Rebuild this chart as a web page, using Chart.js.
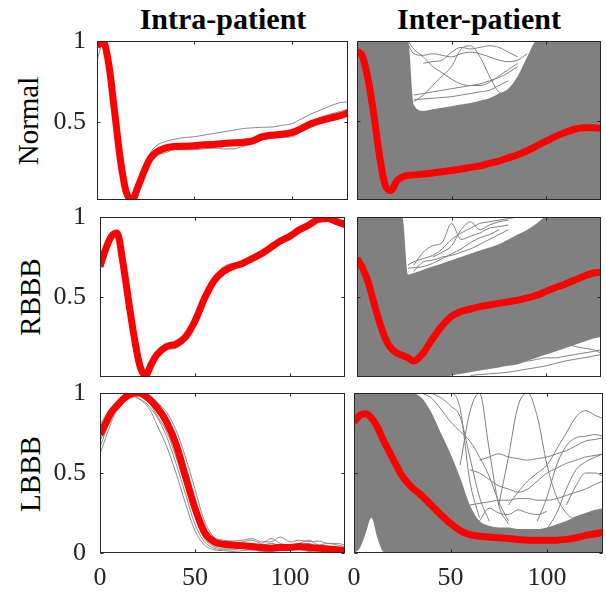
<!DOCTYPE html>
<html lang="en">
<head>
<meta charset="UTF-8">
<title>Intra-patient vs Inter-patient heartbeats</title>
<script src="https://cdn.jsdelivr.net/npm/chart.js"></script>
<style>
  body { margin: 0; background: #fff; }
  #fig { position: relative; width: 606px; height: 596px; overflow: hidden; font-family: "Liberation Serif", "Times New Roman", serif; color: #000; }
  #fig canvas { position: absolute; }
  .colTitle { position: absolute; top: 4px; font-weight: bold; font-size: 30px; line-height: 30px; transform: translateX(-50%); white-space: nowrap; }
  .rowLabel { position: absolute; font-size: 29px; line-height: 29px; transform: translate(-50%, -50%) rotate(-90deg); white-space: nowrap; }
</style>
</head>
<body>
<div id="fig">
  <div class="colTitle" style="left:223px">Intra-patient</div>
  <div class="colTitle" style="left:479px">Inter-patient</div>
  <div class="rowLabel" style="left:28px;top:121px">Normal</div>
  <div class="rowLabel" style="left:30px;top:297px">RBBB</div>
  <div class="rowLabel" style="left:30px;top:474px">LBBB</div>
</div>
<script>
// sample positions shared by every averaged / envelope series
const sampleX = [0, 3, 6, 9, 12, 15, 18, 21, 24, 27, 30, 35, 40, 45, 50, 55, 60, 65, 70, 75, 80, 85, 90, 95, 100, 105, 110, 115, 120, 125, 129];
const xTicks = [0, 50, 100];
const xMax = 129;

// ---- Normal, intra-patient
const normalIntraMean = [0.97, 1.0, 0.86, 0.57, 0.27, 0.07, 0.02, 0.1, 0.19, 0.27, 0.31, 0.34, 0.35, 0.352, 0.355, 0.36, 0.362, 0.368, 0.372, 0.375, 0.385, 0.41, 0.42, 0.425, 0.435, 0.46, 0.49, 0.51, 0.525, 0.54, 0.555];
const normalIntraBeat1 = [0.95, 0.99, 0.87, 0.59, 0.29, 0.09, 0.04, 0.12, 0.22, 0.3, 0.35, 0.38, 0.395, 0.405, 0.41, 0.42, 0.43, 0.44, 0.45, 0.46, 0.465, 0.468, 0.47, 0.48, 0.49, 0.52, 0.55, 0.575, 0.6, 0.62, 0.625];
const normalIntraBeat2 = [0.88, 0.98, 0.85, 0.55, 0.26, 0.06, 0.03, 0.09, 0.17, 0.24, 0.29, 0.31, 0.33, 0.33, 0.33, 0.335, 0.34, 0.335, 0.335, 0.35, 0.37, 0.39, 0.4, 0.405, 0.41, 0.44, 0.47, 0.49, 0.51, 0.53, 0.54];
const normalIntraBeat3 = [0.96, 0.995, 0.86, 0.58, 0.28, 0.08, 0.03, 0.11, 0.2, 0.28, 0.33, 0.35, 0.36, 0.365, 0.37, 0.375, 0.38, 0.385, 0.39, 0.395, 0.4, 0.42, 0.43, 0.44, 0.445, 0.48, 0.5, 0.53, 0.55, 0.565, 0.58];
const normalIntraBeat4 = [0.97, 1.0, 0.86, 0.57, 0.27, 0.07, 0.025, 0.1, 0.19, 0.26, 0.3, 0.33, 0.345, 0.35, 0.36, 0.35, 0.355, 0.37, 0.365, 0.37, 0.39, 0.4, 0.41, 0.43, 0.42, 0.45, 0.48, 0.5, 0.52, 0.535, 0.55];

// ---- RBBB, intra-patient
const rbbbIntraMean = [0.69, 0.8, 0.88, 0.9, 0.72, 0.48, 0.25, 0.07, 0.01, 0.08, 0.14, 0.19, 0.205, 0.25, 0.35, 0.49, 0.6, 0.66, 0.69, 0.71, 0.74, 0.77, 0.81, 0.85, 0.88, 0.92, 0.95, 0.985, 0.99, 0.97, 0.955];
const rbbbIntraBeat1 = [0.67, 0.79, 0.9, 0.91, 0.75, 0.5, 0.27, 0.09, 0.02, 0.06, 0.13, 0.17, 0.18, 0.23, 0.34, 0.5, 0.62, 0.68, 0.7, 0.72, 0.75, 0.78, 0.82, 0.86, 0.89, 0.93, 0.96, 0.98, 0.975, 0.95, 0.93];
const rbbbIntraBeat2 = [0.7, 0.81, 0.89, 0.9, 0.74, 0.49, 0.26, 0.08, 0.015, 0.08, 0.15, 0.2, 0.215, 0.26, 0.36, 0.48, 0.6, 0.66, 0.68, 0.7, 0.73, 0.76, 0.8, 0.84, 0.87, 0.91, 0.945, 0.98, 1.0, 0.985, 0.96];
const rbbbIntraBeat3 = [0.68, 0.8, 0.88, 0.9, 0.72, 0.47, 0.24, 0.07, 0.01, 0.07, 0.14, 0.2, 0.21, 0.24, 0.34, 0.5, 0.62, 0.69, 0.71, 0.72, 0.74, 0.78, 0.82, 0.85, 0.87, 0.9, 0.94, 0.97, 0.98, 0.96, 0.94];

// ---- LBBB, intra-patient
const lbbbIntraMean = [0.74, 0.81, 0.88, 0.92, 0.96, 0.985, 1.0, 1.0, 0.98, 0.95, 0.91, 0.82, 0.68, 0.48, 0.28, 0.13, 0.07, 0.055, 0.05, 0.045, 0.04, 0.035, 0.03, 0.035, 0.035, 0.04, 0.035, 0.03, 0.025, 0.02, 0.015];
const lbbbIntraBeat1 = [0.62, 0.72, 0.82, 0.9, 0.95, 0.97, 0.98, 0.96, 0.93, 0.88, 0.8, 0.67, 0.5, 0.31, 0.14, 0.05, 0.02, 0.015, 0.01, 0.015, 0.02, 0.01, 0.01, 0.015, 0.02, 0.02, 0.01, 0.015, 0.02, 0.01, 0.01];
const lbbbIntraBeat2 = [0.8, 0.86, 0.91, 0.95, 0.98, 0.99, 1.0, 0.99, 0.985, 0.97, 0.94, 0.88, 0.77, 0.6, 0.4, 0.2, 0.1, 0.08, 0.075, 0.08, 0.09, 0.07, 0.07, 0.1, 0.07, 0.08, 0.07, 0.075, 0.06, 0.06, 0.05];
const lbbbIntraBeat3 = [0.7, 0.78, 0.86, 0.92, 0.96, 0.98, 0.99, 0.98, 0.96, 0.92, 0.86, 0.76, 0.6, 0.42, 0.23, 0.09, 0.04, 0.03, 0.03, 0.04, 0.03, 0.03, 0.04, 0.03, 0.03, 0.04, 0.03, 0.03, 0.02, 0.02, 0.02];
const lbbbIntraBeat4 = [0.78, 0.84, 0.9, 0.94, 0.97, 0.99, 1.0, 1.0, 0.99, 0.97, 0.93, 0.85, 0.73, 0.54, 0.33, 0.15, 0.08, 0.06, 0.06, 0.07, 0.08, 0.06, 0.09, 0.06, 0.05, 0.06, 0.08, 0.05, 0.06, 0.05, 0.04];
const lbbbIntraBeat5 = [0.66, 0.76, 0.85, 0.92, 0.95, 0.97, 0.975, 0.96, 0.94, 0.9, 0.85, 0.73, 0.56, 0.37, 0.18, 0.07, 0.03, 0.02, 0.02, 0.03, 0.02, 0.02, 0.03, 0.02, 0.025, 0.02, 0.02, 0.03, 0.02, 0.015, 0.015];
const lbbbIntraBeat6 = [0.75, 0.83, 0.9, 0.94, 0.97, 0.99, 0.995, 0.99, 0.97, 0.94, 0.9, 0.84, 0.72, 0.52, 0.3, 0.12, 0.06, 0.05, 0.05, 0.06, 0.05, 0.05, 0.06, 0.05, 0.05, 0.05, 0.06, 0.04, 0.04, 0.035, 0.03];

// ---- Normal, inter-patient (mean + envelope of the dense grey cloud + stray beats as [x, y])
const normalInterMean = [0.94, 0.9, 0.75, 0.53, 0.27, 0.09, 0.06, 0.12, 0.145, 0.155, 0.158, 0.163, 0.17, 0.178, 0.185, 0.195, 0.205, 0.215, 0.23, 0.245, 0.265, 0.285, 0.31, 0.34, 0.37, 0.4, 0.425, 0.445, 0.455, 0.455, 0.45];
const normalInterUpper = [1, 1, 1, 1, 1, 1, 1, 1, 1, 1, 0.6, 0.56, 0.57, 0.58, 0.59, 0.6, 0.61, 0.625, 0.64, 0.67, 0.7, 0.78, 0.9, 1, 1, 1, 1, 1, 1, 1, 1];
const normalInterLower = [0, 0, 0, 0, 0, 0, 0, 0, 0, 0, 0, 0, 0, 0, 0, 0, 0, 0, 0, 0, 0, 0, 0, 0, 0, 0, 0, 0, 0, 0, 0];
const normalInterStray1 = [[27, 0.98], [30, 0.92], [35, 0.91], [40, 0.92], [45, 0.91], [50, 0.9], [55, 0.92], [60, 0.93], [65, 0.92], [70, 0.9], [75, 0.88], [80, 0.87], [85, 0.88], [90, 0.92]];
const normalInterStray2 = [[30, 0.62], [35, 0.66], [40, 0.72], [45, 0.78], [50, 0.84], [55, 0.95], [60, 0.97], [65, 0.9], [70, 0.78], [75, 0.68], [80, 0.66]];
const normalInterStray3 = [[27, 1.0], [30, 0.95], [35, 0.9], [40, 0.84], [45, 0.8], [50, 0.76], [55, 0.73], [60, 0.72], [65, 0.72], [70, 0.74], [75, 0.78], [80, 0.82], [85, 0.86]];
const normalInterStray4 = [[30, 0.66], [35, 0.67], [40, 0.68], [45, 0.69], [50, 0.7], [55, 0.71], [60, 0.72], [65, 0.73], [70, 0.75], [75, 0.77], [80, 0.8], [85, 0.84]];
const normalInterStray5 = [[30, 0.63], [35, 0.635], [40, 0.64], [45, 0.645], [50, 0.65], [55, 0.66], [60, 0.67], [65, 0.68], [70, 0.69], [75, 0.72], [80, 0.75]];
const normalInterStray6 = [[35, 0.86], [40, 0.87], [45, 0.88], [50, 0.93], [55, 0.96], [60, 0.95], [65, 0.96], [70, 0.97], [75, 0.96], [80, 0.93], [85, 0.9]];

// ---- RBBB, inter-patient
const rbbbInterMean = [0.74, 0.68, 0.59, 0.46, 0.34, 0.24, 0.18, 0.15, 0.135, 0.12, 0.1, 0.15, 0.24, 0.32, 0.38, 0.41, 0.425, 0.44, 0.45, 0.46, 0.47, 0.48, 0.495, 0.51, 0.535, 0.56, 0.58, 0.605, 0.63, 0.65, 0.655];
const rbbbInterUpper = [1, 1, 1, 1, 1, 1, 1, 1, 1, 0.64, 0.65, 0.67, 0.69, 0.71, 0.73, 0.75, 0.77, 0.79, 0.81, 0.83, 0.86, 0.89, 0.92, 0.96, 1, 1, 1, 1, 1, 1, 1];
const rbbbInterLower = [0, 0, 0, 0, 0, 0, 0, 0, 0, 0, 0, 0, 0, 0, 0.01, 0.02, 0.03, 0.04, 0.05, 0.06, 0.07, 0.08, 0.1, 0.12, 0.14, 0.16, 0.18, 0.2, 0.22, 0.24, 0.25];
const rbbbInterStray1 = [[27, 0.7], [30, 0.72], [35, 0.74], [40, 0.76], [45, 0.8], [50, 0.86], [55, 0.9], [60, 0.93], [65, 0.96], [70, 0.97], [75, 0.98], [80, 0.99], [85, 1.0]];
const rbbbInterStray2 = [[30, 0.7], [35, 0.78], [40, 0.82], [45, 0.84], [50, 0.96], [55, 0.86], [60, 0.88], [65, 0.9], [70, 0.93], [75, 0.94], [80, 0.95]];
const rbbbInterStray3 = [[27, 0.68], [35, 0.69], [40, 0.71], [45, 0.74], [50, 0.77], [55, 0.8], [60, 0.84], [65, 0.87], [70, 0.89], [75, 0.92]];
const rbbbInterStray4 = [[40, 0.75], [45, 0.78], [50, 0.82], [55, 0.92], [60, 0.97], [65, 0.92], [70, 0.95], [75, 0.97], [80, 0.98]];
const rbbbInterStray5 = [[30, 0.66], [35, 0.72], [40, 0.73], [45, 0.75], [50, 0.76], [55, 0.78], [60, 0.8], [65, 0.83], [70, 0.86], [75, 0.89], [80, 0.92]];
const rbbbInterStray6 = [[45, 0.02], [50, 0.04], [55, 0.05], [60, 0.06], [65, 0.07], [70, 0.08], [75, 0.085], [80, 0.09], [85, 0.1], [90, 0.1], [95, 0.11], [100, 0.12], [105, 0.12], [110, 0.13], [115, 0.14], [120, 0.15], [125, 0.16], [129, 0.17]];
const rbbbInterStray7 = [[60, 0.01], [70, 0.02], [80, 0.03], [90, 0.05], [100, 0.07], [110, 0.1], [120, 0.12], [129, 0.14]];
const rbbbInterStray8 = [[90, 0.14], [100, 0.17], [110, 0.2], [120, 0.18], [125, 0.17], [129, 0.15]];

// ---- LBBB, inter-patient
const lbbbInterMean = [0.82, 0.86, 0.87, 0.845, 0.79, 0.71, 0.64, 0.57, 0.5, 0.45, 0.41, 0.36, 0.3, 0.24, 0.185, 0.14, 0.115, 0.105, 0.1, 0.095, 0.09, 0.085, 0.08, 0.08, 0.08, 0.08, 0.085, 0.095, 0.11, 0.12, 0.13];
const lbbbInterUpper = [1, 1, 1, 1, 1, 1, 1, 1, 1, 1, 1, 0.97, 0.88, 0.75, 0.62, 0.47, 0.3, 0.2, 0.17, 0.16, 0.16, 0.15, 0.15, 0.15, 0.16, 0.18, 0.2, 0.23, 0.25, 0.27, 0.28];
const lbbbInterLower = [0, 0.03, 0.12, 0.22, 0.1, 0.01, 0, 0, 0, 0, 0, 0, 0, 0, 0, 0, 0, 0, 0, 0, 0, 0, 0, 0, 0, 0, 0, 0, 0, 0, 0];
const lbbbInterStray1 = [[75, 0.3], [80, 0.6], [85, 0.92], [90, 1.0], [95, 0.85], [100, 0.55], [105, 0.35], [110, 0.25], [115, 0.2]];
const lbbbInterStray2 = [[55, 0.55], [60, 0.88], [65, 1.0], [70, 0.65], [75, 0.3], [80, 0.18]];
const lbbbInterStray3 = [[80, 0.3], [85, 0.38], [90, 0.45], [95, 0.5], [100, 0.55], [105, 0.65], [110, 0.75], [115, 0.85], [120, 0.89], [125, 0.86], [129, 0.84]];
const lbbbInterStray4 = [[65, 0.58], [70, 0.6], [75, 0.62], [80, 0.6], [85, 0.59], [90, 0.58], [95, 0.59], [100, 0.6], [105, 0.62], [110, 0.64], [115, 0.67], [120, 0.7], [125, 0.71], [129, 0.72]];
const lbbbInterStray5 = [[60, 0.52], [65, 0.5], [70, 0.46], [75, 0.42], [80, 0.4], [85, 0.38], [90, 0.4], [95, 0.45], [100, 0.5], [105, 0.53], [110, 0.56], [115, 0.58], [120, 0.6], [125, 0.61], [129, 0.62]];
const lbbbInterStray6 = [[95, 0.2], [100, 0.35], [105, 0.55], [110, 0.67], [115, 0.72], [120, 0.73], [125, 0.74], [129, 0.73]];
const lbbbInterStray7 = [[60, 0.3], [65, 0.31], [70, 0.32], [75, 0.33], [80, 0.33], [85, 0.34], [90, 0.34], [95, 0.33], [100, 0.33], [105, 0.34], [110, 0.36], [115, 0.38], [120, 0.4], [125, 0.43], [129, 0.45]];
const lbbbInterStray8 = [[35, 1.0], [40, 0.97], [45, 0.9], [50, 0.82], [55, 0.76], [60, 0.7], [65, 0.6], [70, 0.48], [75, 0.32], [80, 0.2]];
const lbbbInterStray9 = [[40, 1.0], [45, 0.97], [50, 0.92], [55, 0.85], [60, 0.6], [65, 0.35], [70, 0.2]];
const lbbbInterStray10 = [[100, 0.15], [105, 0.25], [110, 0.4], [115, 0.52], [120, 0.57], [125, 0.6], [129, 0.62]];
const lbbbInterStray11 = [[45, 1.0], [50, 1.0], [55, 0.9], [60, 0.45], [65, 0.22]];
const lbbbInterStray12 = [[65, 0.2], [70, 0.28], [75, 0.25], [80, 0.24], [85, 0.27], [90, 0.25], [95, 0.24], [100, 0.26]];
const lbbbInterStray13 = [[110, 0.3], [115, 0.42], [120, 0.5], [125, 0.5], [129, 0.48]];

const RED = '#ff0000';
const GREY = '#808080';
const INK = '#262626';
const TICK_FONT = { family: '"Liberation Serif", "Times New Roman", serif', size: 26 };

function onGrid(values) { return sampleX.map((x, i) => ({ x: x, y: values[i] })); }
function fromPairs(pairs) { return pairs.map(p => ({ x: p[0], y: p[1] })); }

// MATLAB-like box with inward ticks
const boxTicks = {
  id: 'boxTicks',
  afterDraw(chart, args, opts) {
    const { ctx, chartArea: a, scales } = chart;
    const L = Math.round(a.left) + 0.5, R = Math.round(a.right) - 0.5;
    const T = Math.round(a.top) + 0.5, B = Math.round(a.bottom) - 0.5;
    ctx.save();
    ctx.strokeStyle = INK;
    ctx.lineWidth = 1;
    ctx.strokeRect(L, T, R - L, B - T);
    ctx.beginPath();
    opts.xTicks.forEach(v => {
      const px = Math.round(scales.x.getPixelForValue(v)) + 0.5;
      ctx.moveTo(px, B); ctx.lineTo(px, B - 3);
      ctx.moveTo(px, T); ctx.lineTo(px, T + 3);
    });
    opts.yTicks.forEach(v => {
      const py = Math.round(scales.y.getPixelForValue(v)) + 0.5;
      ctx.moveTo(L, py); ctx.lineTo(L + 3, py);
      ctx.moveTo(R, py); ctx.lineTo(R - 3, py);
    });
    ctx.stroke();
    ctx.restore();
  }
};

const panels = [
  { area: [97, 41, 348, 200], yMin: 0.02, yTicks: [0.5, 1], yLabels: true, xLabels: false, labelPad: 11,
    mean: normalIntraMean, beats: [normalIntraBeat1, normalIntraBeat2, normalIntraBeat3, normalIntraBeat4], stray: [], band: null },
  { area: [357, 41, 601, 200], yMin: 0, yTicks: [0.5, 1], yLabels: false, xLabels: false,
    mean: normalInterMean, beats: [], band: [normalInterUpper, normalInterLower],
    stray: [normalInterStray1, normalInterStray2, normalInterStray3, normalInterStray4, normalInterStray5, normalInterStray6] },
  { area: [100, 217, 345, 377], yMin: 0, yTicks: [0.5, 1], yLabels: true, xLabels: false, labelPad: 14,
    mean: rbbbIntraMean, beats: [rbbbIntraBeat1, rbbbIntraBeat2, rbbbIntraBeat3], stray: [], band: null },
  { area: [357, 217, 601, 377], yMin: 0, yTicks: [0.5, 1], yLabels: false, xLabels: false,
    mean: rbbbInterMean, beats: [], band: [rbbbInterUpper, rbbbInterLower],
    stray: [rbbbInterStray1, rbbbInterStray2, rbbbInterStray3, rbbbInterStray4, rbbbInterStray5, rbbbInterStray6, rbbbInterStray7, rbbbInterStray8] },
  { area: [100, 393, 345, 553], yMin: 0, yTicks: [0, 0.5, 1], yLabels: true, xLabels: true, labelPad: 14,
    mean: lbbbIntraMean, beats: [lbbbIntraBeat1, lbbbIntraBeat2, lbbbIntraBeat3, lbbbIntraBeat4, lbbbIntraBeat5, lbbbIntraBeat6], stray: [], band: null },
  { area: [354, 393, 603, 553], yMin: 0, yTicks: [0, 0.5, 1], yLabels: false, xLabels: true,
    mean: lbbbInterMean, beats: [], band: [lbbbInterUpper, lbbbInterLower],
    stray: [lbbbInterStray1, lbbbInterStray2, lbbbInterStray3, lbbbInterStray4, lbbbInterStray5, lbbbInterStray6, lbbbInterStray7,
            lbbbInterStray8, lbbbInterStray9, lbbbInterStray10, lbbbInterStray11, lbbbInterStray12, lbbbInterStray13] }
];

const fig = document.getElementById('fig');

panels.forEach(p => {
  const [L, T, R, B] = p.area;
  // generous margins so tick-label overflow never pushes the plot area
  const padL = p.yLabels ? 60 : 24, padR = 3, padT = 34, padB = p.xLabels ? 43 : 32;
  const cv = document.createElement('canvas');
  cv.width = R - L + padL + padR;
  cv.height = B - T + padT + padB;
  cv.style.left = (L - padL) + 'px';
  cv.style.top = (T - padT) + 'px';
  fig.appendChild(cv);

  const line = { pointRadius: 0, fill: false, cubicInterpolationMode: 'monotone' };
  const datasets = [{ ...line, data: onGrid(p.mean), borderColor: RED, borderWidth: 7 }];
  p.beats.forEach(b => datasets.push({ ...line, data: onGrid(b), borderColor: '#8a8a8a', borderWidth: 1 }));
  p.stray.forEach(s => datasets.push({ ...line, data: fromPairs(s), borderColor: GREY, borderWidth: 1 }));
  if (p.band) {
    datasets.push({ ...line, data: onGrid(p.band[0]), borderWidth: 0, borderColor: GREY, backgroundColor: GREY, fill: '+1' });
    datasets.push({ ...line, data: onGrid(p.band[1]), borderWidth: 0, borderColor: GREY });
  }

  new Chart(cv, {
    type: 'line',
    data: { datasets: datasets },
    options: {
      responsive: false,
      animation: false,
      devicePixelRatio: 1,
      events: [],
      layout: { padding: { left: p.yLabels ? 0 : padL, right: padR, top: padT, bottom: p.xLabels ? 0 : padB } },
      plugins: { legend: { display: false }, tooltip: { enabled: false }, boxTicks: { xTicks: xTicks, yTicks: p.yTicks } },
      scales: {
        x: {
          type: 'linear', min: 0, max: xMax, display: p.xLabels,
          grid: { display: false, drawTicks: false }, border: { display: false },
          ticks: { font: TICK_FONT, color: INK, padding: 10, maxRotation: 0, autoSkip: false, callback: v => String(v) },
          afterBuildTicks: s => { s.ticks = xTicks.map(v => ({ value: v })); },
          afterFit: s => { if (p.xLabels) s.height = padB; }
        },
        y: {
          type: 'linear', min: p.yMin, max: 1, display: p.yLabels,
          grid: { display: false, drawTicks: false }, border: { display: false },
          ticks: { font: TICK_FONT, color: INK, padding: p.labelPad || 10, callback: v => String(v) },
          afterBuildTicks: s => { s.ticks = p.yTicks.map(v => ({ value: v })); },
          afterFit: s => { if (p.yLabels) s.width = padL; }
        }
      }
    },
    plugins: [boxTicks]
  });
});
</script>
</body>
</html>
